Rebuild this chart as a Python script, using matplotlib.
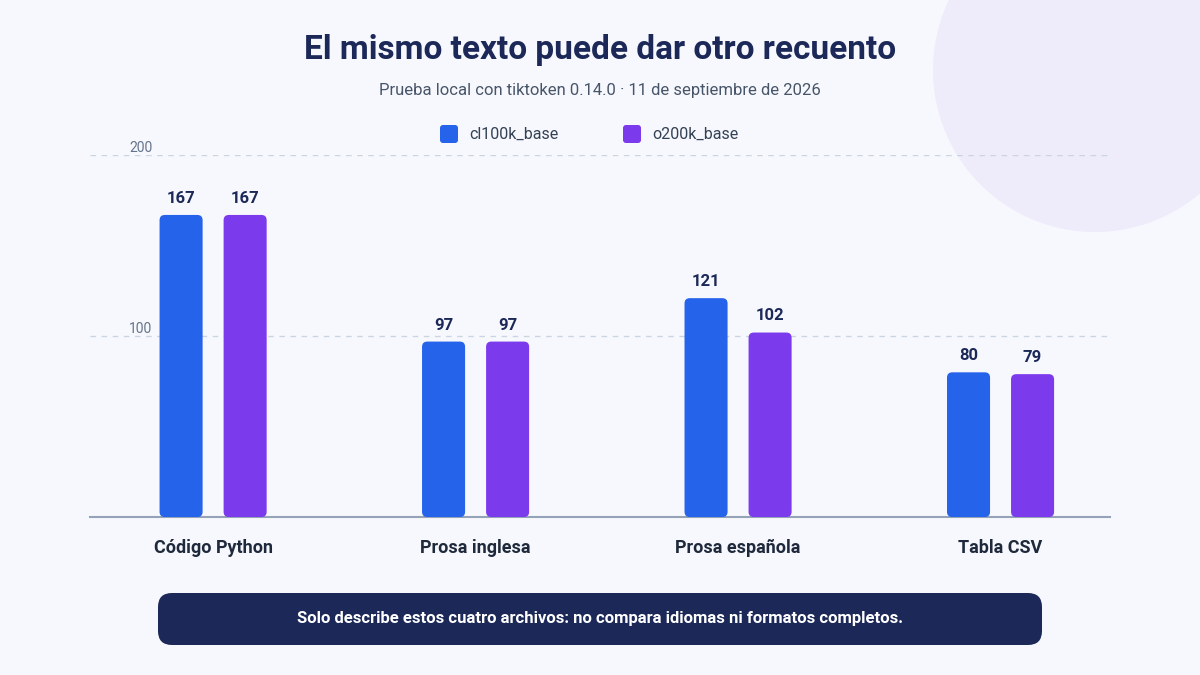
import matplotlib
matplotlib.use("Agg")
import matplotlib.pyplot as plt
from matplotlib.patches import FancyBboxPatch, Circle

categories = ["Código Python", "Prosa inglesa", "Prosa española", "Tabla CSV"]
cl100k = [167, 97, 121, 80]
o200k = [167, 97, 102, 79]
series_names = ["cl100k_base", "o200k_base"]
yticks = [100, 200]

BG = "#f7f8fd"
BLUE = "#2563eb"
PURPLE = "#7c3aed"
NAVY = "#1b2858"

plt.rcParams['font.family'] = ['Roboto', 'DejaVu Sans']
fig = plt.figure(figsize=(12, 6.75), dpi=100, facecolor=BG)

# decorative circle
bgax = fig.add_axes([0, 0, 1, 1], zorder=-1)
bgax.set_xlim(0, 1200); bgax.set_ylim(675, 0); bgax.axis("off")
bgax.add_patch(Circle((1095, 70), 162, color="#eeebfa", lw=0))
bgax.add_patch(FancyBboxPatch((158, 593), 884, 52, boxstyle="round,pad=0,rounding_size=14",
                              fc=NAVY, ec="none"))
bgax.text(600, 619, "Solo describe estos cuatro archivos: no compara idiomas ni formatos completos.",
          ha="center", va="center", color="white", fontsize=12, fontweight="bold")
bgax.text(600, 50, "El mismo texto puede dar otro recuento", ha="center", va="center",
          color=NAVY, fontsize=24, fontweight="bold")
bgax.text(600, 91, "Prueba local con tiktoken 0.14.0 · 11 de septiembre de 2026", ha="center",
          va="center", color="#475569", fontsize=12)
for x, c, n in [(449, BLUE, series_names[0]), (632, PURPLE, series_names[1])]:
    bgax.add_patch(FancyBboxPatch((x - 9, 125), 18, 18, boxstyle="round,pad=0,rounding_size=3",
                                  fc=c, ec="none"))
    bgax.text(x + 20, 134, n, va="center", ha="left", color="#334155", fontsize=11.5)

ax = fig.add_axes([0.075, 0.234, 0.85, 0.536])
ax.set_facecolor("none")
ax.set_xlim(-0.469, 3.417)
ax.set_ylim(0, 200)
xs = range(len(categories))
off, w = 0.122, 0.164
for vals, c, sgn in [(cl100k, BLUE, -1), (o200k, PURPLE, 1)]:
    bars = ax.bar([x + sgn * off for x in xs], vals, width=w, color=c, zorder=3)
    for b, v in zip(bars, vals):
        b.set_visible(False)
        ax.add_patch(FancyBboxPatch((b.get_x(), 0), w, v,
                                    boxstyle="round,pad=0,rounding_size=0.02",
                                    mutation_aspect=200 / 0.536 / 6.75 / (3.886 / 0.85 / 12),
                                    fc=c, ec="none", zorder=3))
        ax.text(b.get_x() + w / 2, v + 5, str(v), ha="center", va="bottom",
                fontsize=12, fontweight="bold", color=NAVY)
ax.set_yticks(yticks)
ax.set_yticklabels([str(t) for t in yticks], color="#64748b", fontsize=10)
ax.yaxis.grid(True, ls=(0, (4, 4)), color="#cbd5e1", lw=1)
ax.tick_params(axis="y", length=0, pad=-28)
for t in ax.get_yticklabels():
    t.set_horizontalalignment("left")
    t.set_verticalalignment("bottom")
ax.set_xticks(list(xs))
ax.set_xticklabels(categories, fontsize=13, fontweight="bold", color="#1e293b")
ax.tick_params(axis="x", length=0, pad=16)
for s in ["top", "right", "left"]:
    ax.spines[s].set_visible(False)
ax.spines["bottom"].set_color("#94a3b8")
ax.spines["bottom"].set_linewidth(1.5)

fig.savefig("out.png", dpi=100, facecolor=BG)
